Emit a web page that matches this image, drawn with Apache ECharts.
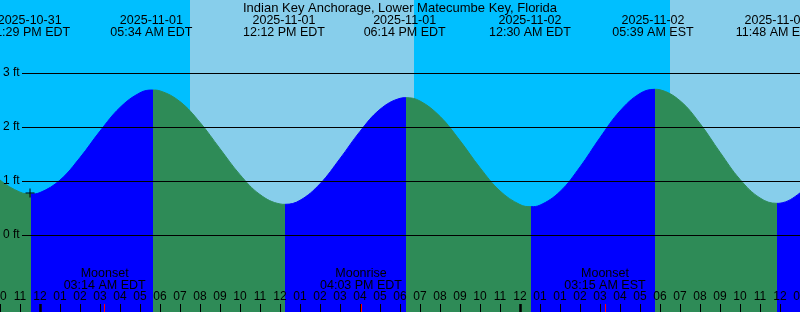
<!DOCTYPE html>
<html>
<head>
<meta charset="utf-8">
<style>
html,body{margin:0;padding:0;background:#fff;}
#chart{width:800px;height:312px;}
</style>
<script src="https://cdn.jsdelivr.net/npm/echarts@6/dist/echarts.min.js"></script>
</head>
<body>
<div id="chart"></div>
<script>
// Hours are counted from 2025-11-01 00:00 EDT.
const tideHours = [-3, -2, -1, -0.45, 0, 1, 2, 3, 4, 5, 5.635, 6, 7, 8, 9, 10, 11, 12, 12.25,
  13, 14, 15, 16, 17, 18, 18.3, 19, 20, 21, 22, 23, 24, 24.55, 25, 26, 27, 28, 29, 30, 30.75,
  31, 32, 33, 34, 35, 36, 36.85, 37, 38, 39];
const tideFeet = [1.397, 1.018, 0.794, 0.76, 0.786, 1.017, 1.433, 1.924, 2.362, 2.634, 2.685, 2.669,
  2.470, 2.085, 1.598, 1.117, 0.749, 0.575, 0.568, 0.642, 0.948, 1.415, 1.919, 2.327, 2.531, 2.543,
  2.481, 2.197, 1.748, 1.246, 0.816, 0.563, 0.525, 0.553, 0.805, 1.260, 1.803, 2.298, 2.621, 2.698,
  2.689, 2.487, 2.065, 1.533, 1.030, 0.686, 0.586, 0.589, 0.78, 1.16];

// turning points of the curve (fill switches rising/falling there)
const turnHours = [-0.45, 5.635, 12.25, 18.3, 24.55, 30.75, 36.85];

const tideEventHours = [-0.517, 5.567, 12.2, 18.233, 24.5, 30.65, 36.8];
const tideEventDates = ['2025-10-31', '2025-11-01', '2025-11-01', '2025-11-01', '2025-11-02', '2025-11-02', '2025-11-02'];
const tideEventTimes = ['11:29 PM EDT', '05:34 AM EDT', '12:12 PM EDT', '06:14 PM EDT', '12:30 AM EDT', '05:39 AM EST', '11:48 AM EST'];

const moonEventHours = [3.233, 16.05, 28.25];
const moonEventNames = ['Moonset', 'Moonrise', 'Moonset'];
const moonEventTimes = ['03:14 AM EDT', '04:03 PM EDT', '03:15 AM EST'];

const midnightHours = [0, 24];
const daylightSpans = [[7.5, 18.7], [31.5, 42]];

const hourLabels = ['10', '11', '12', '01', '02', '03', '04', '05', '06', '07', '08', '09', '10', '11',
  '12', '01', '02', '03', '04', '05', '06', '07', '08', '09', '10', '11', '12', '01', '01', '02', '03',
  '04', '05', '06', '07', '08', '09', '10', '11', '12', '01'];
const feetTicks = [0, 1, 2, 3];
const nowMark = [-0.5, 0.78];

const titleText = 'Indian Key Anchorage, Lower Matecumbe Key, Florida';

const X_MIN = -2, X_MAX = 38;
const Y_MIN = -1.4259, Y_MAX = 4.3519;
const FONT = "'Liberation Sans', Arial, sans-serif";
const GREEN = '#2E8B57', BLUE = '#0000FF';

const pieces = [];
for (let i = 0; i <= turnHours.length; i++) {
  const p = { color: i % 2 === 0 ? GREEN : BLUE };
  if (i > 0) p.gte = turnHours[i - 1];
  if (i < turnHours.length) p.lt = turnHours[i];
  pieces.push(p);
}

const baseX = {
  type: 'value', min: X_MIN, max: X_MAX, z: 10,
  axisLine: { show: false, onZero: false }, splitLine: { show: false }
};

const chart = echarts.init(document.getElementById('chart'), null, { renderer: 'canvas' });
chart.setOption({
  animation: false,
  textStyle: { fontFamily: FONT },
  title: {
    text: titleText, left: 'center', top: 2, padding: 0,
    textStyle: { fontSize: 13, fontWeight: 'normal', color: '#000', fontFamily: FONT }
  },
  grid: {
    left: 0, right: 0, top: 0, bottom: 0, show: true,
    backgroundColor: '#00BFFF', borderWidth: 0, containLabel: false, outerBoundsMode: 'none'
  },
  visualMap: { type: 'piecewise', show: false, dimension: 0, seriesIndex: 0, pieces: pieces },
  xAxis: [
    Object.assign({}, baseX, {
      position: 'bottom', interval: 1,
      axisTick: { show: true, inside: true, length: 8, lineStyle: { color: '#000', width: 1 } },
      axisLabel: {
        show: true, inside: true, margin: 9, color: '#000', fontSize: 12, fontFamily: FONT,
        hideOverlap: false, showMinLabel: true, showMaxLabel: true,
        formatter: v => hourLabels[Math.round(v - X_MIN)] || ''
      }
    }),
    Object.assign({}, baseX, {
      position: 'bottom',
      axisTick: { show: true, inside: true, length: 8, customValues: midnightHours, lineStyle: { color: '#000', width: 2.5 } },
      axisLabel: { show: false }
    }),
    Object.assign({}, baseX, {
      position: 'bottom',
      axisTick: { show: true, inside: true, length: 8, customValues: moonEventHours, lineStyle: { color: '#FF0000', width: 1 } },
      axisLabel: {
        show: true, inside: true, margin: 20, color: '#000', fontSize: 12.5, lineHeight: 12, fontFamily: FONT,
        customValues: moonEventHours, hideOverlap: false,
        formatter: v => { const i = moonEventHours.indexOf(v); return i < 0 ? '' : moonEventNames[i] + '\n' + moonEventTimes[i]; }
      }
    }),
    Object.assign({}, baseX, {
      position: 'top',
      axisTick: { show: false },
      axisLabel: {
        show: true, inside: true, margin: 14.5, color: '#000', fontSize: 12.5, lineHeight: 12, fontFamily: FONT,
        customValues: tideEventHours, hideOverlap: false,
        formatter: v => { const i = tideEventHours.indexOf(v); return i < 0 ? '' : tideEventDates[i] + '\n' + tideEventTimes[i]; }
      }
    })
  ],
  yAxis: {
    type: 'value', min: Y_MIN, max: Y_MAX, z: 10,
    axisLine: { show: false, onZero: false }, axisTick: { show: false }, splitLine: { show: false },
    axisLabel: {
      show: true, inside: true, margin: 3, color: '#000', fontSize: 12, fontFamily: FONT,
      customValues: feetTicks, formatter: '{value} ft'
    }
  },
  series: [
    {
      type: 'line', xAxisIndex: 0, yAxisIndex: 0,
      data: tideHours.map((h, i) => [h, tideFeet[i]]),
      smooth: 0.4, symbol: 'none', clip: true,
      lineStyle: { width: 1 },
      areaStyle: { origin: 'start', opacity: 1 },
      markArea: {
        silent: true,
        itemStyle: { color: '#87CEEB', opacity: 1 },
        data: daylightSpans.map(s => [{ xAxis: s[0] }, { xAxis: s[1] }])
      },
      markLine: {
        silent: true, symbol: 'none', label: { show: false },
        lineStyle: { color: '#000', width: 1, type: 'solid', opacity: 1 },
        data: feetTicks.map(v => [{ coord: [-0.9, v] }, { coord: [X_MAX, v] }])
      }
    },
    {
      type: 'scatter', xAxisIndex: 0, yAxisIndex: 0, z: 6,
      data: [nowMark],
      symbol: 'path://M4,0h1v9h-1zM0,4h9v1h-9z', symbolSize: 9,
      itemStyle: { color: '#000', opacity: 1 }, silent: true
    }
  ]
});
</script>
</body>
</html>
